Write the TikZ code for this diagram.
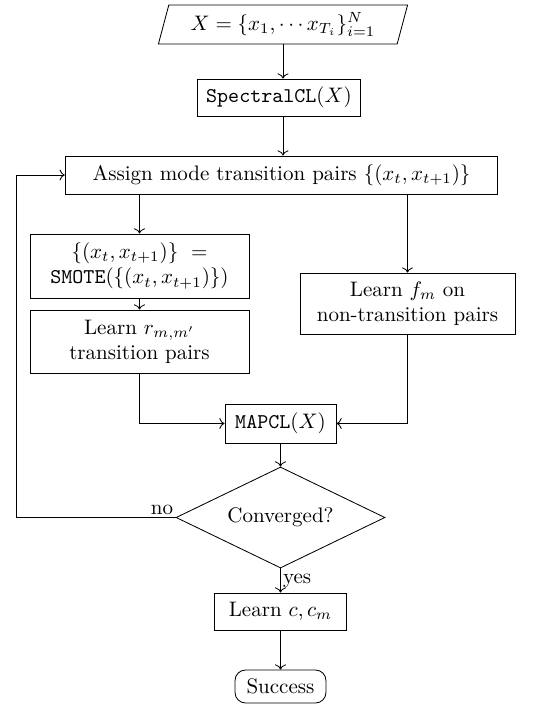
\documentclass[tikz,border=0pt]{standalone}
\usetikzlibrary{shapes.geometric,arrows.meta}
\begin{document}
\begin{tikzpicture}[x=0.4762pt,y=-0.4762pt,
  box/.style={draw,rectangle,align=center,inner sep=2pt},
  conn/.style={->},
  lbl/.style={inner sep=1pt}]
\useasboundingbox (0,0) rectangle (536,706);
\node[draw,trapezium,trapezium left angle=70,trapezium right angle=110,trapezium stretches=true,minimum width=119pt,minimum height=18.6pt,inner sep=0pt] (in) at (283,24.5) {$X=\{x_1,\cdots x_{T_i}\}_{i=1}^{N}$};
\node[box,minimum width=77.6pt,minimum height=17.6pt] (spec) at (279,97.5) {$\texttt{SpectralCL}(X)$};
\node[box,minimum width=206pt,minimum height=18.1pt] (assign) at (281.5,175) {Assign mode transition pairs $\{(x_t,x_{t+1})\}$};
\node[box,minimum width=104.3pt,minimum height=30.5pt] (smote) at (139.5,266) {$\{(x_t,x_{t+1})\}\ =$\\$\texttt{SMOTE}(\{(x_t,x_{t+1})\})$};
\node[box,minimum width=104.3pt,minimum height=30pt] (lr) at (139.5,341.5) {Learn $r_{m,m'}$\\transition pairs};
\node[box,minimum width=102.4pt,minimum height=29pt] (lf) at (407.5,303.5) {Learn $f_m$ on\\non-transition pairs};
\node[box,minimum width=52.9pt,minimum height=18.6pt] (map) at (280.5,423.5) {$\texttt{MAPCL}(X)$};
\node[draw,diamond,aspect=2.07,minimum width=99.5pt,minimum height=48.1pt,inner sep=0pt] (conv) at (280.5,517.5) {Converged?};
\node[box,minimum width=62.9pt,minimum height=17.6pt] (lc) at (280.5,611.5) {Learn $c, c_m$};
\node[draw,rounded corners=5pt,minimum width=43.3pt,minimum height=15.7pt,inner sep=2pt] (succ) at (280.5,686.5) {Success};
\coordinate (lb) at (16,517.5);
\draw[conn] (in.south) -- (in.south |- spec.north);
\draw[conn] (in.south |- spec.south) -- (in.south |- assign.north);
\draw[conn] (assign.south -| smote.north) -- (smote.north);
\draw[conn] (assign.south -| lf.north) -- (lf.north);
\draw[conn] (smote) -- (lr);
\draw[conn] (lr.south) |- (map.west);
\draw[conn] (lf.south) |- (map.east);
\draw[conn] (map.south) -- (conv.north);
\draw[conn] (conv.west) node[lbl,anchor=south east] {no} -- (lb) |- (assign.west);
\draw[conn] (conv.south) -- node[lbl,anchor=west] {yes} (lc.north);
\draw[conn] (lc.south) -- (succ.north);
\end{tikzpicture}
\end{document}
